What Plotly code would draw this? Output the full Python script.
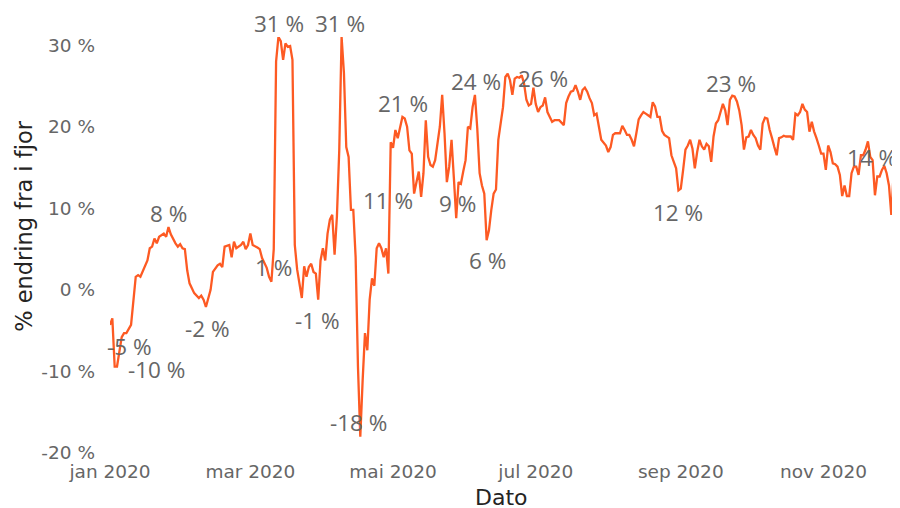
import pandas as pd
import plotly.graph_objects as go

# ---- data ----
start_date = "2020-01-01"
day_index = [0, 1, 2, 3, 5, 6, 7, 9, 11, 12, 13, 16, 17, 18, 19, 20, 21, 23, 24, 25, 26, 28, 29, 30, 31, 32, 33, 34, 36, 38,
             39, 40, 41, 43, 44, 46, 47, 48, 49, 51, 52, 53, 54, 56, 57, 58, 59, 60, 61, 63, 64, 65, 67, 68, 69, 70, 71, 72, 73, 74,
             75, 76, 77, 78, 79, 80, 82, 83, 84, 85, 86, 87, 88, 89, 90, 91, 92, 93, 94, 95, 96, 97, 98, 99, 100, 101, 102, 103, 104, 105,
             106, 107, 108, 109, 110, 111, 112, 113, 114, 115, 116, 117, 118, 119, 120, 121, 122, 123, 125, 126, 127, 128, 129, 130, 131, 132, 133, 134, 135, 136,
             137, 138, 139, 141, 142, 143, 144, 145, 146, 147, 148, 149, 150, 151, 152, 153, 154, 155, 156, 157, 158, 159, 160, 161, 162, 163, 164, 165, 166, 167,
             168, 169, 170, 171, 172, 173, 174, 175, 176, 177, 178, 179, 180, 181, 182, 183, 184, 185, 186, 187, 188, 189, 190, 191, 192, 194, 195, 196, 197, 198,
             199, 200, 201, 202, 203, 204, 205, 206, 207, 208, 209, 210, 212, 213, 214, 215, 216, 218, 219, 220, 221, 222, 223, 224, 225, 226, 227, 228, 229, 230,
             231, 232, 233, 234, 235, 236, 237, 239, 240, 241, 242, 243, 244, 245, 246, 247, 248, 249, 250, 251, 252, 253, 254, 255, 256, 257, 258, 259, 260, 261,
             262, 263, 264, 265, 266, 267, 268, 269, 270, 271, 272, 273, 274, 275, 276, 277, 278, 279, 280, 281, 282, 283, 284, 285, 286, 287, 288, 289, 291, 292,
             293, 294, 295, 296, 297, 298, 299, 300, 301, 302, 303, 304, 305, 306, 307, 308, 309, 310, 311, 312, 313, 314, 315, 316, 317, 318, 319, 320, 321, 322,
             323, 324, 325, 326, 327, 328, 329, 330, 331, 332, 333, 334, 335]
pct_change = [-4.3, -3.5, -9.4, -9.4, -5.8, -5.3, -5.3, -4.3, 1.6, 1.8, 1.6, 3.6, 5.1, 5.3, 6.3, 5.7, 6.5, 6.9, 6.5, 7.7, 6.8, 5.7, 5.3, 5.6, 5.1, 5.0, 2.4, 0.8, -0.4, -1.0,
              -0.7, -1.2, -2.1, 0.0, 2.2, 3.0, 3.2, 2.8, 5.3, 5.5, 4.0, 5.9, 5.1, 5.5, 5.9, 5.0, 5.5, 6.9, 5.5, 5.2, 5.0, 3.9, 2.7, 1.6, 1.0, 5.0, 28.0, 31.0, 30.5, 28.2,
              30.2, 29.8, 29.9, 28.2, 5.5, 2.5, -1.0, 2.9, 1.6, 2.8, 3.2, 2.2, 2.0, -1.2, 3.6, 5.1, 3.6, 6.9, 8.6, 9.2, 4.3, 9.0, 17.1, 31.0, 26.6, 17.5, 16.3, 9.8, 9.8, 4.0,
              -9.4, -18.0, -11.1, -5.3, -7.4, -1.2, 1.4, 0.5, 5.1, 5.7, 5.1, 4.0, 5.1, 2.0, 18.1, 17.4, 19.6, 18.6, 21.2, 21.0, 20.0, 17.1, 16.7, 11.8, 13.2, 14.5, 11.4, 14.3, 20.8, 16.3,
              15.3, 15.1, 15.9, 20.0, 23.9, 19.2, 13.2, 15.1, 18.4, 13.7, 8.8, 13.2, 13.0, 14.5, 15.9, 20.0, 19.8, 22.4, 23.9, 19.8, 14.3, 12.8, 11.8, 6.1, 7.3, 9.8, 11.8, 12.3, 18.4, 20.4,
              22.4, 26.1, 26.5, 25.7, 23.9, 25.9, 26.1, 26.0, 26.3, 25.3, 23.3, 22.6, 22.8, 24.8, 22.8, 21.8, 22.4, 22.6, 23.6, 21.8, 21.2, 20.6, 20.8, 20.8, 20.8, 20.2, 22.9, 23.7, 24.3, 24.4,
              25.1, 24.3, 23.3, 24.5, 24.8, 24.3, 23.5, 22.9, 21.4, 21.6, 20.0, 18.4, 17.7, 16.9, 17.5, 19.0, 19.2, 19.2, 20.1, 19.6, 19.0, 19.0, 18.4, 17.6, 19.2, 20.9, 21.4, 21.8, 21.6, 21.4,
              21.2, 23.0, 22.5, 21.2, 21.2, 19.5, 19.0, 18.6, 16.5, 15.7, 14.9, 12.2, 12.4, 14.7, 17.2, 17.7, 18.4, 17.3, 14.9, 16.9, 18.4, 17.6, 17.2, 17.9, 17.6, 15.7, 18.8, 20.4, 20.8, 21.8,
              22.8, 22.0, 20.2, 23.3, 23.8, 23.7, 23.1, 22.0, 20.2, 17.2, 18.7, 18.8, 19.6, 19.0, 18.6, 17.7, 17.2, 20.4, 21.1, 21.0, 19.6, 18.6, 17.5, 16.5, 18.6, 18.7, 18.9, 18.8, 18.8, 18.4,
              21.6, 21.4, 21.8, 22.8, 22.1, 21.8, 19.4, 20.6, 19.4, 18.6, 17.7, 16.7, 16.7, 14.7, 17.7, 16.9, 15.5, 15.4, 15.1, 14.1, 11.5, 12.8, 11.5, 11.5, 14.3, 15.1, 15.1, 14.1, 16.5, 16.5,
              17.2, 18.2, 16.3, 15.9, 11.6, 13.9, 13.9, 14.7, 15.2, 14.3, 12.8, 9.2, 14.3]

label_texts = ["-5 %", "-10 %", "8 %", "-2 %", "31 %", "1 %", "31 %", "-1 %", "-18 %",
               "11 %", "21 %", "9 %", "24 %", "6 %", "26 %", "12 %", "23 %", "14 %"]

x_tick_dates = ["2020-01-01", "2020-03-01", "2020-05-01", "2020-07-01", "2020-09-01", "2020-11-01"]
x_tick_text = ["jan 2020", "mar 2020", "mai 2020", "jul 2020", "sep 2020", "nov 2020"]
y_tick_vals = [-20, -10, 0, 10, 20, 30]
y_tick_text = ["-20 %", "-10 %", "0 %", "10 %", "20 %", "30 %"]

# ---- layout helpers (label placement: days-from-start, in-range anchor value, pixel shift) ----
label_pos_day = [8.5, 20, 25.2, 41.5, 72.2, 69.7, 98.3, 88.5, 106.4,
                 118.8, 125.2, 148.7, 156.4, 161.5, 185, 242.7, 265.4, 325.6]
label_pos_val = [-7.0, -9.8, 9.4, -4.7, 31.0, 2.8, 31.0, -3.7, -16.3,
                 11.0, 22.9, 10.6, 25.5, 3.65, 25.9, 9.5, 25.3, 16.2]
label_shift_px = [0, 0, 0, 0, 14, 0, 14, 0, 0, 0, 0, 0, 0, 0, 0, 0, 0, 0]

base = pd.Timestamp(start_date)
dates = [base + pd.Timedelta(days=d) for d in day_index]

fig = go.Figure()
fig.add_trace(go.Scatter(
    x=dates, y=pct_change, mode="lines",
    line=dict(color="#FD5A23", width=2.3, simplify=False),
    cliponaxis=False, hoverinfo="skip", showlegend=False,
))

for t, d, v, s in zip(label_texts, label_pos_day, label_pos_val, label_shift_px):
    fig.add_annotation(
        x=base + pd.Timedelta(days=d), y=v, yshift=s, text=t, showarrow=False,
        xanchor="center", yanchor="middle",
        font=dict(family="Open Sans", size=22.5, color="#666666"),
    )

# axis titles
fig.add_annotation(
    xref="paper", yref="paper", x=0, y=0.546, xshift=-86,
    text="% endring fra i fjor", textangle=-90, showarrow=False,
    xanchor="center", yanchor="middle",
    font=dict(family="DejaVu Sans", size=22.5, color="#252423"),
)
fig.add_annotation(
    xref="paper", yref="paper", x=0.5, y=0, xshift=-2, yshift=-44,
    text="Dato", showarrow=False, xanchor="center", yanchor="middle",
    font=dict(family="DejaVu Sans", size=22, color="#252423"),
)

# page body has an 8px default margin: size the figure so the plot lands where the reference has it
fig.update_layout(
    width=891, height=500,
    margin=dict(l=102, r=3, t=29, b=55),
    plot_bgcolor="white", paper_bgcolor="white",
    font=dict(family="DejaVu Sans", size=18.5, color="#666666"),
)
fig.update_xaxes(
    range=[base, base + pd.Timedelta(days=336)],
    tickvals=x_tick_dates, ticktext=x_tick_text,
    showgrid=False, zeroline=False, showline=False,
    ticks="", ticklabelstandoff=5,
    tickfont=dict(family="DejaVu Sans", size=18.5, color="#666666"),
)
fig.update_yaxes(
    range=[-20, 31],
    tickvals=y_tick_vals, ticktext=y_tick_text,
    showgrid=False, zeroline=False, showline=False,
    ticks="", ticklabelstandoff=14,
    tickfont=dict(family="DejaVu Sans", size=18.5, color="#666666"),
)

fig.write_html("out.html")
